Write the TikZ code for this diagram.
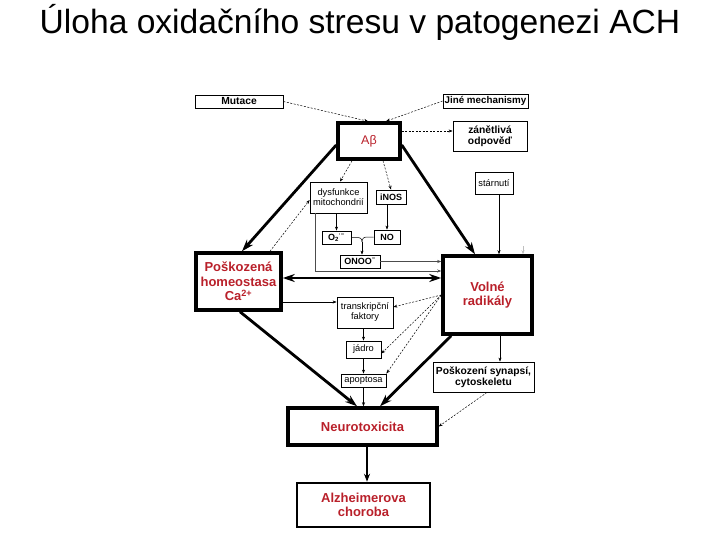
\documentclass[tikz,border=0pt]{standalone}
\usepackage{fontspec}
\setmainfont{Liberation Sans}
\usetikzlibrary{arrows.meta}
\definecolor{dred}{RGB}{185,32,42}
\begin{document}
\begin{tikzpicture}[x=1pt,y=-1pt,
  thinbox/.style={draw, line width=0.8pt, inner sep=0pt, align=center},
  thickbox/.style={draw, line width=3.5pt, inner sep=0pt, align=center},
  sm/.style={font=\fontsize{10.3}{11}\selectfont\bfseries},
  smb/.style={font=\fontsize{9}{10}\selectfont\bfseries},
  smr/.style={font=\fontsize{9.3}{10}\selectfont},
  big/.style={font=\fontsize{13}{14.5}\selectfont\bfseries, text=dred},
  thinarr/.style={line width=0.5pt, -{Stealth[length=4pt,width=3pt]}},
  dasharr/.style={line width=0.5pt, dash pattern=on 2pt off 1.5pt, -{Stealth[length=4pt,width=3pt]}},
  thickarr/.style={line width=2.8pt, -{Stealth[length=12pt,width=8pt]}},
  thickdbl/.style={line width=2.8pt, {Stealth[length=12pt,width=8pt]}-{Stealth[length=12pt,width=8pt]}}
]
\useasboundingbox (0,0) rectangle (720,540);
\node[font=\fontsize{33.6}{36}\selectfont] (title) at (360,22) {Úloha oxidačního stresu v patogenezi ACH};

\node[thinbox, sm, minimum width=88, minimum height=13] (mut) at (239,101.5) {Mutace};
\node[thinbox, sm, font=\fontsize{9.8}{11}\selectfont\bfseries, minimum width=85, minimum height=14] (jine) at (485.5,101) {Jiné mechanismy};
\node[thickbox, minimum width=62, minimum height=36, font=\fontsize{12.5}{14}\selectfont, text=dred] (ab) at (369,141) {Aβ};
\node[thinbox, sm, minimum width=74, minimum height=30] (zan) at (490,136) {zánětlivá\\odpověď};
\node[thinbox, smr, minimum width=38, minimum height=22] (star) at (494,183) {stárnutí};
\node[thinbox, smr, minimum width=57, minimum height=31] (dys) at (338.5,197.5) {dysfunkce\\mitochondrií};
\node[thinbox, smb, minimum width=30, minimum height=14] (inos) at (391,197) {iNOS};
\node[thinbox, smb, minimum width=29, minimum height=13] (o2) at (336.5,237.5) {O\textsubscript{2}\textsuperscript{·−}};
\node[thinbox, smb, minimum width=26, minimum height=14] (no) at (387,237) {NO};
\node[thinbox, smb, minimum width=40, minimum height=13] (onoo) at (360,261.5) {ONOO\textsuperscript{−}};
\node[thickbox, big, minimum width=85, minimum height=57] (pos) at (238.5,281.5) {Poškozená\\homeostasa\\Ca\textsuperscript{2+}};
\node[thickbox, big, minimum width=89, minimum height=78] (vol) at (487.5,295) {Volné\\radikály};
\node[thinbox, smr, minimum width=56, minimum height=31] (trans) at (365,312.5) {transkripční\\faktory};
\node[thinbox, smr, minimum width=35, minimum height=17] (jadro) at (363.5,349.5) {jádro};
\node[thinbox, smr, minimum width=45, minimum height=13] (apop) at (363.5,380.5) {apoptosa};
\node[thinbox, sm, minimum width=101, minimum height=30] (syn) at (483.5,377) {Poškození synapsí,\\cytoskeletu};
\node[thickbox, big, minimum width=149, minimum height=37] (neuro) at (362.5,426.5) {Neurotoxicita};
\node[draw, line width=2.5pt, inner sep=0pt, align=center, big, minimum width=133, minimum height=44] (alz) at (363.5,505) {Alzheimerova\\choroba};

% top inputs
\draw[dasharr] (mut.east) -- ([xshift=-1pt]ab.north);
\draw[dasharr] (jine.west) -- ([xshift=17pt]ab.north);
\draw[dasharr] ([yshift=10pt]ab.east) -- ([yshift=5pt]zan.west);
% thick from Abeta
\draw[thickarr] ([yshift=-4pt]ab.west) -- ([xshift=3.5pt]pos.north);
\draw[thickarr] ([yshift=-4pt]ab.east) -- ([xshift=-12.5pt]vol.north);
% Abeta to mitochondria / iNOS
\draw[dasharr] ([xshift=-17pt]ab.south) -- ([xshift=1.5pt]dys.north);
\draw[dasharr] ([xshift=14pt]ab.south) -- (inos.north);
\draw[dasharr] ([xshift=31.5pt]pos.north) -- ([yshift=-2.5pt]dys.west);
\draw[thinarr] (o2.north |- dys.south) -- (o2.north);
\draw[thinarr] (no.north |- inos.south) -- (no.north);
% bracket O2 + NO -> ONOO
\coordinate (jn) at (362,242);
\draw[line width=0.5pt] (o2.east) -- (356,237.5) .. controls (360,237.5) and (362,238) .. (jn);
\draw[line width=0.5pt] (no.west) -- (368,237) .. controls (364,237) and (362,238) .. (jn);
\draw[thinarr] (jn) -- (jn |- onoo.north);
\draw[thinarr, black!70] (onoo.east) -- (onoo.east -| vol.west);
\coordinate (dl) at (315,271);
\draw[thinarr, black!70] (dl |- dys.south) -- (dl) -- (dl -| vol.west);
% double arrow
\coordinate (h278) at (0,278);
\draw[thickdbl] (pos.east |- h278) -- (vol.west |- h278);
% Ca -> transcription
\coordinate (h302) at (0,302);
\draw[thinarr] (pos.east |- h302) -- (trans.west |- h302);
% radicals dashed
\draw[dasharr] (vol.west) -- ([yshift=5.5pt]trans.east);
\draw[dasharr] (vol.west) -- ([yshift=-4pt]jadro.east);
\draw[dasharr] (vol.west) -- (apop.north east);
\draw[thinarr] (jadro.north |- trans.south) -- (jadro.north);
\draw[thinarr] (jadro.south) -- (apop.north);
\draw[thinarr] (apop.south) -- (apop.south |- neuro.north);
% thick to neurotoxicity
\draw[thickarr] ([xshift=1.5pt]pos.south) -- ([xshift=-5.5pt]neuro.north);
\draw[thickarr] ([xshift=10pt]vol.south west) -- ([xshift=17.5pt]neuro.north);
\draw[thinarr] ([xshift=12.5pt]vol.south) -- ([xshift=16.5pt]syn.north);
\draw[dasharr] ([xshift=3.5pt]syn.south) -- (neuro.east);
\draw[line width=2pt, -{Stealth[length=8pt,width=6pt]}] ([xshift=4.5pt]neuro.south) -- ([xshift=3.5pt]alz.north);
% ageing
\draw[thinarr] ([xshift=5pt]star.south) -- ([xshift=11.5pt]vol.north);
\coordinate (ta) at (523,246);
\draw[thinarr, black!25] (ta) -- (ta |- vol.north);
\end{tikzpicture}
\end{document}
